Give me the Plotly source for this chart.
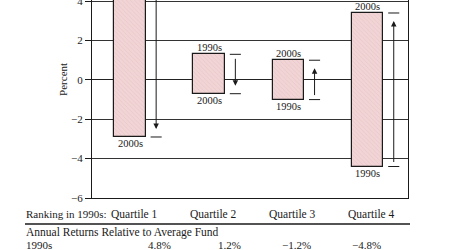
import plotly.graph_objects as go

# ---- data ----
quartiles = ["Quartile 1", "Quartile 2", "Quartile 3", "Quartile 4"]
ret_1990s = [4.8, 1.3, -1.0, -4.4]     # chart values, 1990s (percent)
ret_2000s = [-2.9, -0.7, 1.0, 3.4]     # chart values, 2000s (percent)
table_1990s = ["4.8%", "1.2%", "\u22121.2%", "\u22124.8%"]
y_ticks = [4, 2, 0, -2, -4, -6]
y_ticktext = ["4", "2", "0", "\u22122", "\u22124", "\u22126"]

FONT = "Liberation Serif"
INK = "#1a1a1a"

xs = list(range(len(quartiles)))
lows = [min(a, b) for a, b in zip(ret_1990s, ret_2000s)]
highs = [max(a, b) for a, b in zip(ret_1990s, ret_2000s)]

fig = go.Figure()
fig.add_trace(go.Bar(
    x=xs, y=[h - l for h, l in zip(highs, lows)], base=lows,
    width=0.4,
    marker=dict(color="#f1d4d5",
                line=dict(color=INK, width=1.2),
                pattern=dict(shape="\\", fgcolor="#ddb2b5", size=3, solidity=0.2)),
    hoverinfo="skip", showlegend=False,
))

annotations = []
shapes = []
off = 0.33
cap = 0.07
for i, (a, b) in enumerate(zip(ret_1990s, ret_2000s)):
    top_lbl = "1990s" if a >= b else "2000s"
    bot_lbl = "2000s" if a >= b else "1990s"
    annotations.append(dict(x=i, y=max(a, b), xref="x", yref="y", text=top_lbl,
                            showarrow=False, yanchor="bottom", yshift=-1,
                            font=dict(family=FONT, size=10.5, color=INK)))
    annotations.append(dict(x=i, y=min(a, b), xref="x", yref="y", text=bot_lbl,
                            showarrow=False, yanchor="top", yshift=1,
                            font=dict(family=FONT, size=10.5, color=INK)))
    annotations.append(dict(x=i + off, y=b, ax=i + off, ay=a, xref="x", yref="y",
                            axref="x", ayref="y", text="", showarrow=True,
                            arrowhead=2, arrowsize=1.1, arrowwidth=1, arrowcolor=INK,
                            standoff=8, startstandoff=3))
    for v in (a, b):
        shapes.append(dict(type="line", xref="x", yref="y", x0=i + off - cap, x1=i + off + cap,
                           y0=v, y1=v, line=dict(color=INK, width=1)))
    annotations.append(dict(x=i, y=0, xref="x", yref="paper", text=quartiles[i],
                            showarrow=False, yanchor="middle", yshift=-16, xshift=4,
                            font=dict(family=FONT, size=11.5, color=INK)))

annotations.append(dict(x=-37 / 316, y=0, xref="paper", yref="y", text="Percent",
                        textangle=-90, showarrow=False,
                        font=dict(family=FONT, size=11, color=INK)))

W = 316.0
def px_x(p):
    return (p - 92) / W

annotations.append(dict(x=px_x(24), y=0, xref="paper", yref="paper", text="Ranking in 1990s:",
                        showarrow=False, xanchor="left", yanchor="middle", yshift=-16,
                        font=dict(family=FONT, size=11, color=INK)))
annotations.append(dict(x=px_x(24), y=0, xref="paper", yref="paper",
                        text="Annual Returns Relative to Average Fund",
                        showarrow=False, xanchor="left", yanchor="middle", yshift=-34,
                        font=dict(family=FONT, size=11.5, color=INK)))
annotations.append(dict(x=px_x(24), y=0, xref="paper", yref="paper", text="1990s",
                        showarrow=False, xanchor="left", yanchor="middle", yshift=-47,
                        font=dict(family=FONT, size=11, color=INK)))
for k, t in enumerate(table_1990s):
    annotations.append(dict(x=px_x(173 + 70 * k), y=0, xref="paper", yref="paper", text=t,
                            showarrow=False, xanchor="right", yanchor="middle", yshift=-47,
                            font=dict(family=FONT, size=11, color=INK)))

shapes.append(dict(type="line", xref="paper", yref="paper", x0=px_x(25), x1=px_x(410),
                   y0=-26 / 198, y1=-26 / 198, line=dict(color=INK, width=1.5)))

fig.update_layout(
    width=450, height=250,
    margin=dict(l=92, r=42, t=0, b=52),
    paper_bgcolor="white", plot_bgcolor="white",
    xaxis=dict(range=[-0.48, 3.51], showticklabels=False, ticks="", showgrid=False,
               zeroline=False, showline=True, linecolor=INK, linewidth=1.2,
               automargin=False),
    yaxis=dict(range=[-6, 4.06], tickvals=y_ticks, ticktext=y_ticktext,
               ticks="outside", ticklen=6, tickcolor=INK, tickwidth=1,
               ticklabeloverflow="allow", automargin=False,
               tickfont=dict(family=FONT, size=11, color=INK),
               showgrid=True, gridcolor="#333333", gridwidth=1,
               zeroline=True, zerolinecolor="#222222", zerolinewidth=1,
               showline=True, mirror=True, linecolor=INK, linewidth=1.2),
    annotations=annotations, shapes=shapes,
    bargap=0,
)

fig.write_html("out.html")
